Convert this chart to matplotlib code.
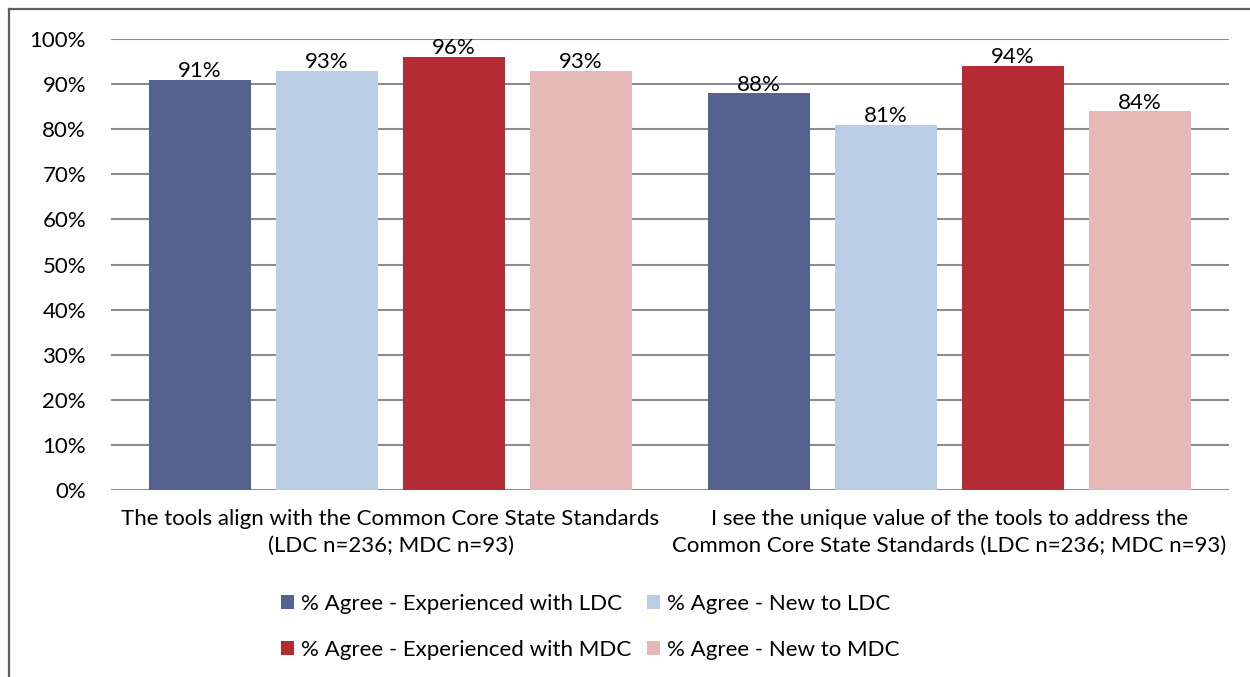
import matplotlib.pyplot as plt
from matplotlib.lines import Line2D
from matplotlib.ticker import PercentFormatter

plt.rcParams['font.family'] = ['Lato', 'DejaVu Sans']

categories = ["The tools align with the Common Core State Standards\n(LDC n=236; MDC n=93)",
              "I see the unique value of the tools to address the\nCommon Core State Standards (LDC n=236; MDC n=93)"]
series_names = ["% Agree - Experienced with LDC", "% Agree - New to LDC",
                "% Agree - Experienced with MDC", "% Agree - New to MDC"]
exp_ldc = [91, 88]
new_ldc = [93, 81]
exp_mdc = [96, 94]
new_mdc = [93, 84]
colors = ["#556290", "#B9CDE5", "#B52B33", "#E6B9B8"]

fs = 16

fig = plt.figure(figsize=(12.5, 6.77), dpi=100)
ax = fig.add_axes([0.0888, 0.2762, 0.8944, 0.6662])

width = 0.1825
step = 0.227
bars = []
for i, (vals, name, c) in enumerate(zip([exp_ldc, new_ldc, exp_mdc, new_mdc], series_names, colors)):
    xs = [k + (i - 1.5) * step for k in range(len(categories))]
    b = ax.bar(xs, vals, width, color=c, label=name, zorder=3)
    ax.bar_label(b, labels=[f"{v}%" for v in vals], padding=-1, fontsize=fs, color="#000000")
    bars.append(b)

ax.set_xlim(-0.5, 1.5)
ax.set_ylim(0, 100)
ax.set_yticks(range(0, 101, 10))
ax.yaxis.set_major_formatter(PercentFormatter(decimals=0))
ax.set_xticks(range(len(categories)))
ax.set_xticklabels(categories, fontsize=fs, linespacing=1.4)
ax.tick_params(axis='y', labelsize=fs, length=0, pad=18)
ax.tick_params(axis='x', length=0, pad=14)
ax.grid(axis='y', color="#8C8C8C", linewidth=1.5, zorder=0)
for s in ax.spines.values():
    s.set_visible(False)

handles = [bars[0], bars[2], bars[1], bars[3]]
labels = [series_names[0], series_names[2], series_names[1], series_names[3]]
fig.legend(handles, labels, ncol=2, loc='center', bbox_to_anchor=(0.472, 0.074),
           frameon=False, fontsize=fs, handlelength=0.6, handleheight=0.6,
           handletextpad=0.3, columnspacing=0.7, labelspacing=1.2)

# outer chart border (left and top visible)
fig.add_artist(Line2D([0.0068, 0.0068], [0, 0.986], transform=fig.transFigure, color="#5F5F5F", lw=1.6))
fig.add_artist(Line2D([0.0068, 1.0], [0.986, 0.986], transform=fig.transFigure, color="#5F5F5F", lw=1.6))

fig.savefig("out.png", dpi=100)
